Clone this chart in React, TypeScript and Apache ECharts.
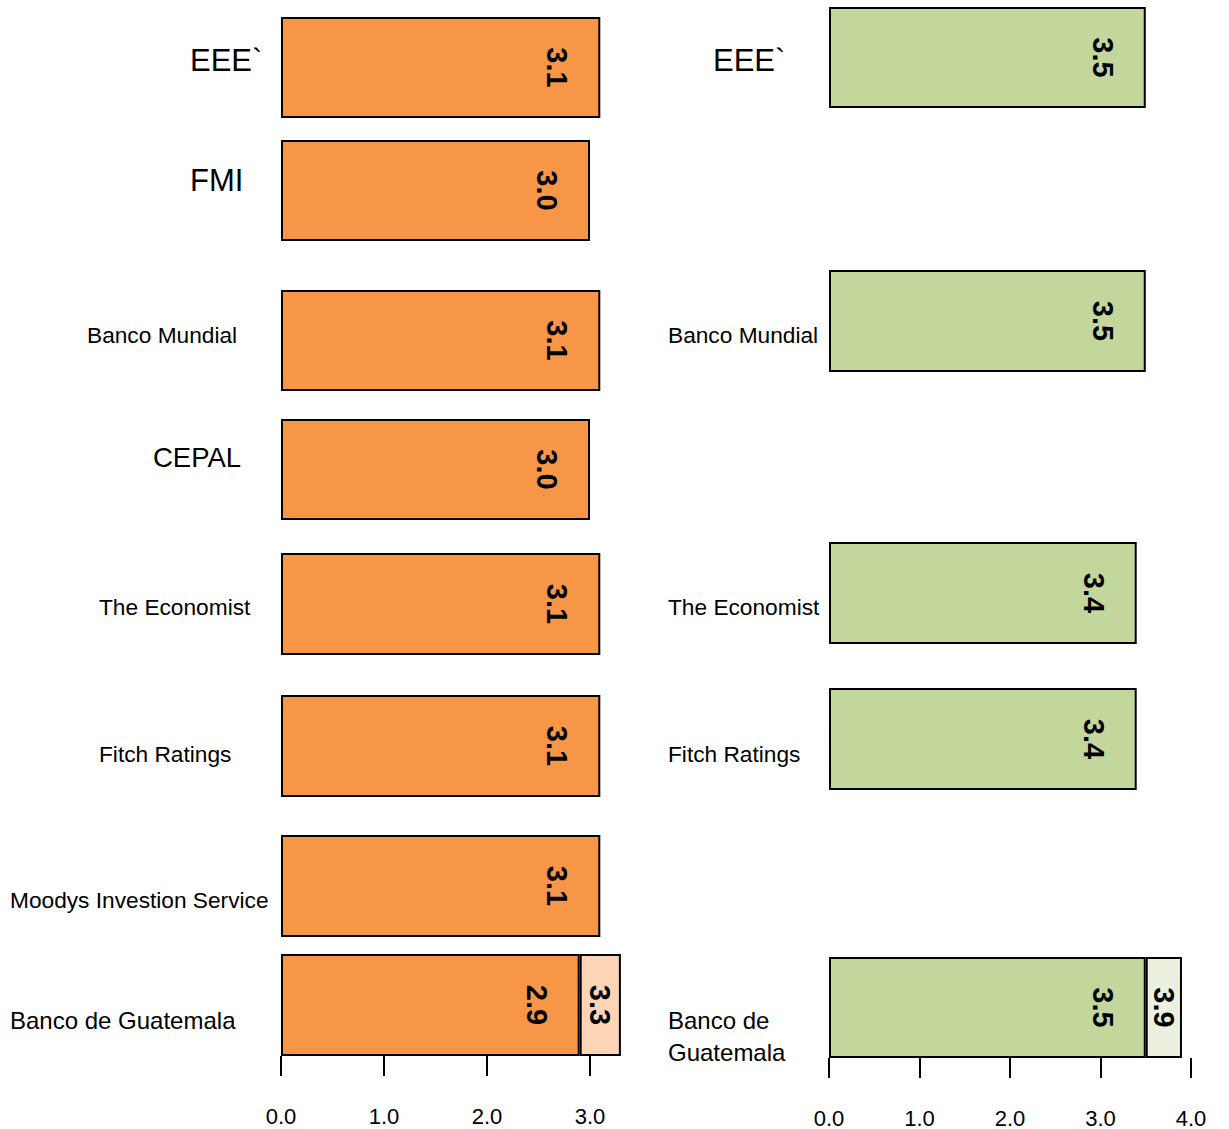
import { useEffect, useRef } from "react";
import * as echarts from "echarts";

// Growth forecasts by source, two periods
const leftSources = [
  "EEE`",
  "FMI",
  "Banco Mundial",
  "CEPAL",
  "The Economist",
  "Fitch Ratings",
  "Moodys Investion Service",
  "Banco de Guatemala",
];
const leftValues = [3.1, 3.0, 3.1, 3.0, 3.1, 3.1, 3.1, 2.9];
const leftUpper: (number | null)[] = [null, null, null, null, null, null, null, 3.3];

const rightSources = ["EEE`", "Banco Mundial", "The Economist", "Fitch Ratings", "Banco de Guatemala"];
const rightValues = [3.5, 3.5, 3.4, 3.4, 3.5];
const rightUpper: (number | null)[] = [null, null, null, null, 3.9];

const leftTicks = [0, 1, 2, 3];
const rightTicks = [0, 1, 2, 3, 4];

// Layout: row boxes [top, height] and label placement [x, y, fontSize]
const leftRows = [
  [17, 101], [140, 101], [290, 101], [419, 101],
  [553, 102], [695, 102], [835, 102], [954, 102],
];
const rightRows = [[7, 101], [270, 102], [542, 102], [688, 102], [957, 101]];
const leftLabelPos = [
  [190, 60, 31], [190, 180, 31], [87, 335, 22.7], [153, 457, 27.5],
  [99, 607, 22.7], [99, 754, 22.7], [10, 900, 22.7], [10, 1020, 24],
];
const rightLabelPos = [
  [713, 60, 31], [668, 335, 22.7], [668, 607, 22.7], [668, 754, 22.7], [668, 1020, 24],
];

const FONT = "'Liberation Sans', Arial, sans-serif";
const ORANGE = "#F79646";
const ORANGE_LIGHT = "#FBD5B5";
const GREEN = "#C3D69B";
const GREEN_LIGHT = "#EBF1DE";

type Panel = {
  sources: string[];
  values: number[];
  upper: (number | null)[];
  ticks: number[];
  rows: number[][];
  labelPos: number[][];
  left: number;
  pxPerUnit: number;
  max: number;
  color: string;
  light: string;
  wrapLast: boolean;
};

const panels: Panel[] = [
  {
    sources: leftSources, values: leftValues, upper: leftUpper, ticks: leftTicks,
    rows: leftRows, labelPos: leftLabelPos, left: 281, pxPerUnit: 103, max: 3.6,
    color: ORANGE, light: ORANGE_LIGHT, wrapLast: false,
  },
  {
    sources: rightSources, values: rightValues, upper: rightUpper, ticks: rightTicks,
    rows: rightRows, labelPos: rightLabelPos, left: 829, pxPerUnit: 90.5, max: 4.3,
    color: GREEN, light: GREEN_LIGHT, wrapLast: true,
  },
];

const valueLabel = {
  show: true,
  align: "center",
  verticalAlign: "middle",
  rotate: -90,
  fontSize: 29,
  fontWeight: "bold",
  fontFamily: FONT,
  color: "#000",
};

function buildOption() {
  const grid: any[] = [];
  const xAxis: any[] = [];
  const yAxis: any[] = [];
  const series: any[] = [];
  const graphic: any[] = [];

  panels.forEach((p) => {
    p.sources.forEach((name, i) => {
      const g = grid.length;
      const isLast = i === p.sources.length - 1;
      const [top, height] = p.rows[i];
      grid.push({ left: p.left, top, width: p.pxPerUnit * p.max, height, containLabel: false });
      xAxis.push({
        gridIndex: g,
        type: "value",
        min: 0,
        max: p.max,
        axisLine: { show: false },
        splitLine: { show: false },
        axisTick: {
          show: isLast,
          length: 20,
          customValues: p.ticks,
          lineStyle: { color: "#000", width: 2 },
        },
        axisLabel: {
          show: isLast,
          customValues: p.ticks,
          formatter: (v: number) => v.toFixed(1),
          margin: 49,
          fontSize: 22,
          fontFamily: FONT,
          color: "#000",
        },
      });
      yAxis.push({ gridIndex: g, type: "category", data: [name], show: false });

      const base = p.values[i];
      series.push({
        type: "bar",
        name,
        xAxisIndex: g,
        yAxisIndex: g,
        stack: "s" + g,
        barWidth: "100%",
        data: [base],
        itemStyle: { color: p.color, borderColor: "#000", borderWidth: 2 },
        label: {
          ...valueLabel,
          position: "insideRight",
          distance: 43,
          formatter: () => base.toFixed(1),
        },
      });
      const up = p.upper[i];
      if (up != null) {
        series.push({
          type: "bar",
          name: name + " (alto)",
          xAxisIndex: g,
          yAxisIndex: g,
          stack: "s" + g,
          barWidth: "100%",
          data: [up - base],
          itemStyle: { color: p.light, borderColor: "#000", borderWidth: 2 },
          label: {
            ...valueLabel,
            position: "inside",
            formatter: () => up.toFixed(1),
          },
        });
      }

      const [lx, ly, fs] = p.labelPos[i];
      const wrap = p.wrapLast && isLast;
      graphic.push({
        type: "text",
        x: lx,
        y: ly,
        silent: true,
        style: {
          text: wrap ? name.replace("de ", "de\n") : name,
          fontSize: fs,
          fontFamily: FONT,
          fill: "#000",
          align: "left",
          verticalAlign: wrap ? "top" : "middle",
          lineHeight: 32,
          ...(wrap ? { y: -16 } : {}),
        },
      });
    });
  });

  return { animation: false, backgroundColor: "#fff", grid, xAxis, yAxis, series, graphic };
}

export default function App() {
  const ref = useRef<HTMLDivElement>(null);
  useEffect(() => {
    if (!ref.current) return;
    const chart = echarts.init(ref.current, undefined, { renderer: "svg" });
    chart.setOption(buildOption());
    return () => chart.dispose();
  }, []);
  return (
    <div
      ref={ref}
      style={{ position: "absolute", left: 0, top: 0, width: 1229, height: 1129, background: "#fff" }}
    />
  );
}
